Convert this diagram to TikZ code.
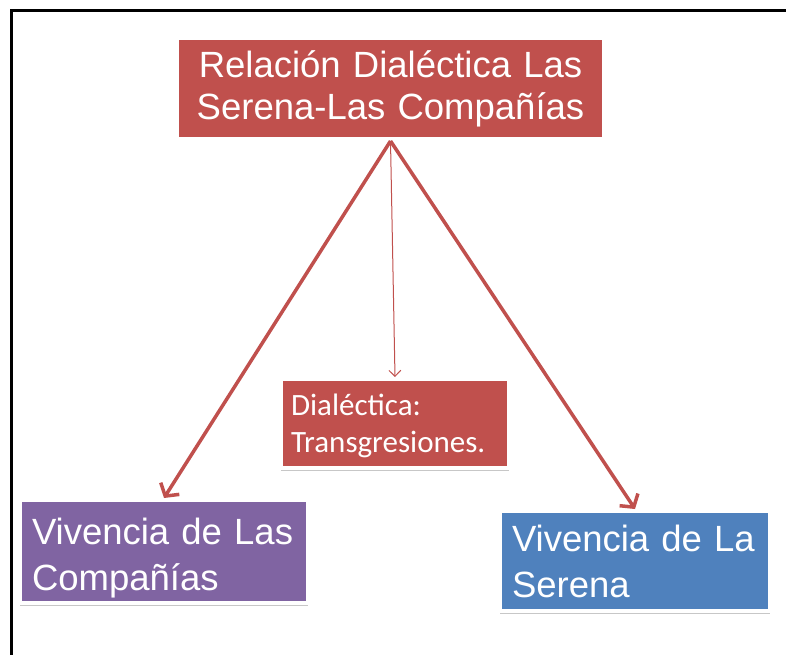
\documentclass[tikz,border=0pt]{standalone}
\usepackage{fontspec}
\setmainfont{Liberation Sans}
\newfontfamily\calib{Carlito}
\usetikzlibrary{arrows.meta,shadows}
\definecolor{cred}{HTML}{C0504D}
\definecolor{cpurple}{HTML}{8064A2}
\definecolor{cblue}{HTML}{4F81BD}
\tikzset{
  pbox/.style={draw=white, line width=4pt, text=white, inner sep=0pt,
    drop shadow={shadow xshift=0pt, shadow yshift=-2.5pt, opacity=0.22, fill=black}},
  bigfont/.style={font=\fontsize{36.5}{42}\selectfont},
  lowfont/.style={font=\fontsize{36.5}{46}\selectfont},
  thick arrow/.style={draw=cred, line width=3.5pt,
    -{Straight Barb[length=9pt,width=22pt,line width=3.5pt]}},
  thin arrow/.style={draw=cred, line width=1pt,
    -{Straight Barb[length=6pt,width=12pt,line width=1pt]}}
}
\begin{document}
\begin{tikzpicture}[x=1pt,y=-1pt]
\useasboundingbox (0,0) rectangle (786,655);
\draw[line width=3pt, black] (11,655) -- (11,11) -- (786,11);
\node[pbox, fill=cred, minimum width=427pt, minimum height=101pt,
      text width=427pt, align=center, bigfont] (top) at (390.5,88.5)
  {Relación Dialéctica Las\\Serena-Las Compañías};
\node[pbox, fill=cred, minimum width=228pt, minimum height=89pt,
      text width=208pt, align=left,
      font=\calib\fontsize{31}{37}\selectfont] (dia) at (395,423.5)
  {\rule{0pt}{27pt}Dialéctica:\\Transgresiones.};
\node[pbox, fill=cpurple, minimum width=288pt, minimum height=103pt,
      text width=264pt, align=left, lowfont] (comp) at (164,551.5)
  {\rule{0pt}{39pt}Vivencia de Las\\Compañías};
\node[pbox, fill=cblue, minimum width=270pt, minimum height=100pt,
      text width=246pt, align=left, lowfont] (ser) at (635,561)
  {Vivencia de La\\Serena};
\draw[thick arrow] (top.south) -- (comp.north);
\draw[thick arrow] (top.south) -- (ser.north);
\draw[thin arrow] (top.south) -- (dia.north);
\end{tikzpicture}
\end{document}
